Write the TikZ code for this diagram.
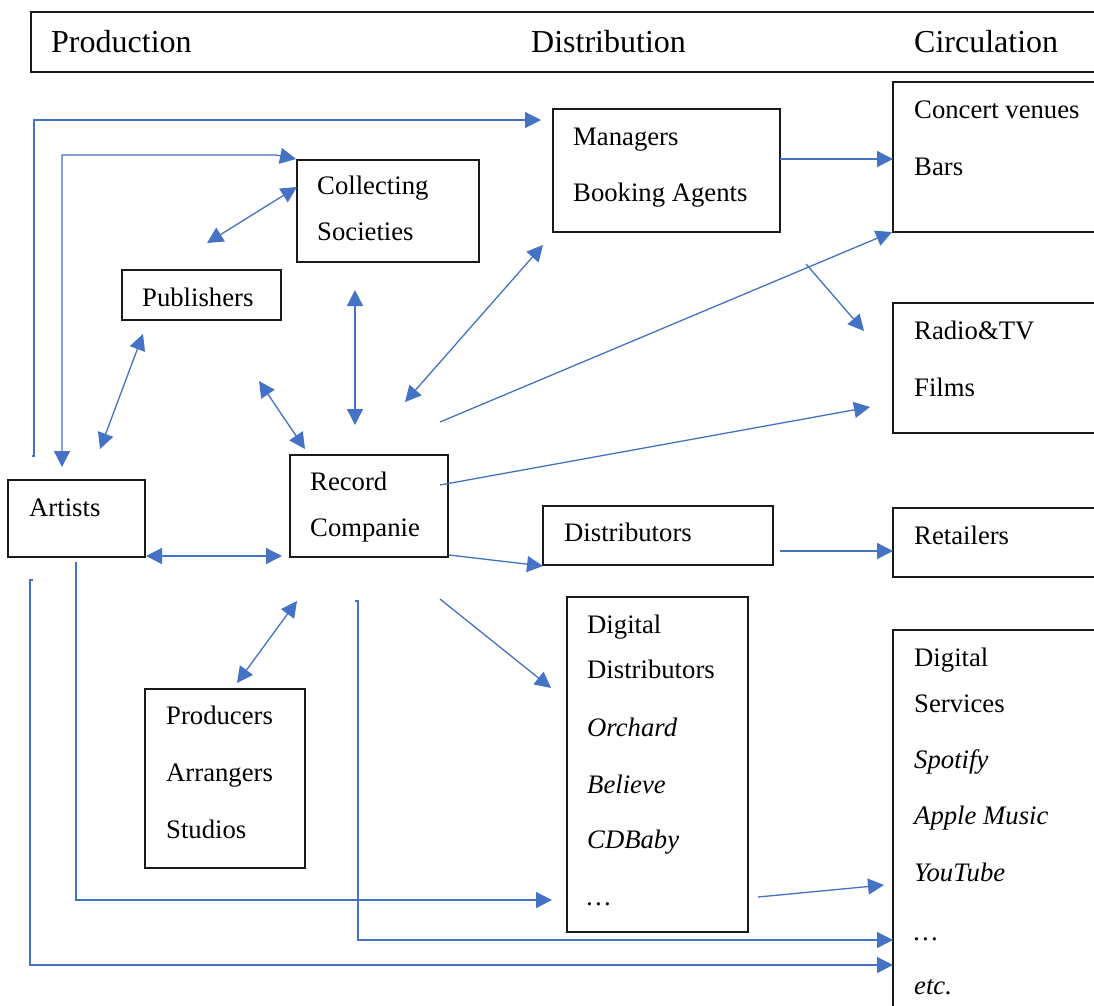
\documentclass[tikz,border=0pt]{standalone}
\usepackage{fontspec}
\setmainfont{Liberation Serif}
\usetikzlibrary{arrows.meta}
\definecolor{lnk}{HTML}{4472C4}
\definecolor{bx}{HTML}{1A1A1A}
\begin{document}
\begin{tikzpicture}[x=1pt,y=-1pt,
  box/.style={draw=bx,line width=1.4pt,anchor=north west,inner sep=0pt,outer sep=0pt},
  txt/.style={anchor=base west,inner sep=0pt,font=\fontsize{26.7}{32}\selectfont},
  hdr/.style={anchor=base west,inner sep=0pt,font=\fontsize{32}{38}\selectfont},
  lk/.style={draw=lnk,line width=1.3pt,-{Triangle[length=16pt,width=16pt]}},
  lkk/.style={draw=lnk,line width=1.3pt,{Triangle[length=16pt,width=16pt]}-{Triangle[length=16pt,width=16pt]}},
  pl/.style={draw=lnk,line width=1.3pt}]
\useasboundingbox (0,0) rectangle (1094,1005);
\fill[white] (0,0) rectangle (1094,1005);
\clip (0,0) rectangle (1094,1005);

% header
\node[box,minimum width=1100pt,minimum height=60pt] (head) at (31,12) {};
\node[hdr] (hprod) at (51,52) {Production};
\node[hdr] (hdist) at (531,52) {Distribution};
\node[hdr] (hcirc) at (914,52) {Circulation};

% boxes
\node[box,minimum width=227pt,minimum height=123pt] (man) at (553,109) {};
\node[txt] (man1) at (573,145) {Managers};
\node[txt] (man2) at (573,201) {Booking Agents};

\node[box,minimum width=182pt,minimum height=102pt] (col) at (297,160) {};
\node[txt] (col1) at (317,194) {Collecting};
\node[txt] (col2) at (317,240) {Societies};

\node[box,minimum width=159pt,minimum height=50pt] (pub) at (122,270) {};
\node[txt] (pub1) at (142,306) {Publishers};

\node[box,minimum width=240pt,minimum height=150pt] (con) at (893,82) {};
\node[txt] (con1) at (914,118) {Concert venues};
\node[txt] (con2) at (914,175) {Bars};

\node[box,minimum width=240pt,minimum height=130pt] (rad) at (893,303) {};
\node[txt] (rad1) at (914,339) {Radio\&TV};
\node[txt] (rad2) at (914,396) {Films};

\node[box,minimum width=158pt,minimum height=102pt] (rec) at (290,455) {};
\node[txt] (rec1) at (310,490) {Record};
\node[txt] (rec2) at (310,536) {Companie};

\node[box,minimum width=137pt,minimum height=77pt] (art) at (8,480) {};
\node[txt] (art1) at (29,516) {Artists};

\node[box,minimum width=230pt,minimum height=59pt] (dis) at (543,506) {};
\node[txt] (dis1) at (564,541) {Distributors};

\node[box,minimum width=240pt,minimum height=69pt] (ret) at (893,508) {};
\node[txt] (ret1) at (914,544) {Retailers};

\node[box,minimum width=181pt,minimum height=335pt] (dd) at (567,597) {};
\node[txt] (dd1) at (587,633) {Digital};
\node[txt] (dd2) at (587,678) {Distributors};
\node[txt] (dd3) at (587,736) {\itshape Orchard};
\node[txt] (dd4) at (587,793) {\itshape Believe};
\node[txt] (dd5) at (587,848) {\itshape CDBaby};
\node[txt] (dd6) at (587,905) {\itshape \dots};

\node[box,minimum width=240pt,minimum height=400pt] (ds) at (893,630) {};
\node[txt] (ds1) at (914,666) {Digital};
\node[txt] (ds2) at (914,712) {Services};
\node[txt] (ds3) at (914,768) {\itshape Spotify};
\node[txt] (ds4) at (914,824) {\itshape Apple Music};
\node[txt] (ds5) at (914,881) {\itshape YouTube};
\node[txt] (ds6) at (914,940) {\itshape \dots};
\node[txt] (ds7) at (914,994) {\itshape etc.};

\node[box,minimum width=160pt,minimum height=179pt] (pro) at (145,689) {};
\node[txt] (pro1) at (166,724) {Producers};
\node[txt] (pro2) at (166,781) {Arrangers};
\node[txt] (pro3) at (166,838) {Studios};

% connector end points
\coordinate (a1s) at (32,456);
\coordinate (a1e) at (541,120);
\coordinate (a2s) at (62,467);
\coordinate (a2e) at (296,159);
\coordinate (a3s) at (207,243);
\coordinate (a3e) at (297,187);
\coordinate (a4s) at (100,449);
\coordinate (a4e) at (143,334);
\coordinate (a5s) at (259,381);
\coordinate (a5e) at (305,449);
\coordinate (a6s) at (355,290);
\coordinate (a6e) at (355,425);
\coordinate (a7s) at (543,245);
\coordinate (a7e) at (405,402);
\coordinate (a8s) at (440,422);
\coordinate (a8e) at (892,232);
\coordinate (a9s) at (780,159);
\coordinate (a9e) at (893,159);
\coordinate (a10s) at (806,264);
\coordinate (a10e) at (864,331);
\coordinate (a11s) at (440,485);
\coordinate (a11e) at (870,407);
\coordinate (a12s) at (449,555);
\coordinate (a12e) at (543,566);
\coordinate (a13s) at (780,551);
\coordinate (a13e) at (893,551);
\coordinate (a14s) at (146,556);
\coordinate (a14e) at (282,556);
\coordinate (a15s) at (297,601);
\coordinate (a15e) at (237,683);
\coordinate (a16s) at (440,599);
\coordinate (a16e) at (551,688);
\coordinate (a17s) at (76,562);
\coordinate (a17e) at (552,900);
\coordinate (a18s) at (33,580);
\coordinate (a18e) at (893,965);
\coordinate (a19s) at (355,601);
\coordinate (a19e) at (893,940);
\coordinate (a20s) at (758,897);
\coordinate (a20e) at (884,885);

% connectors
\draw[lk] (a1s) -- (34,456) -- (34,120) -- (a1e);
\draw[lkk] (a2s) -- (62,155) -- (276,155) -- (a2e);
\draw[lkk] (a3s) -- (a3e);
\draw[lkk] (a4s) -- (a4e);
\draw[lkk] (a5s) -- (a5e);
\draw[lkk] (a6s) -- (a6e);
\draw[lkk] (a7s) -- (a7e);
\draw[lk] (a8s) -- (a8e);
\draw[lk] (a9s) -- (a9e);
\draw[lk] (a10s) -- (a10e);
\draw[lk] (a11s) -- (a11e);
\draw[lk] (a12s) -- (a12e);
\draw[lk] (a13s) -- (a13e);
\draw[lkk] (a14s) -- (a14e);
\draw[lkk] (a15s) -- (a15e);
\draw[lk] (a16s) -- (a16e);
\draw[lk] (a17s) -- (76,900) -- (a17e);
\draw[lk] (a18s) -- (30,580) -- (30,965) -- (a18e);
\draw[lk] (a19s) -- (358,601) -- (358,940) -- (a19e);
\draw[lk] (a20s) -- (a20e);
\end{tikzpicture}
\end{document}
